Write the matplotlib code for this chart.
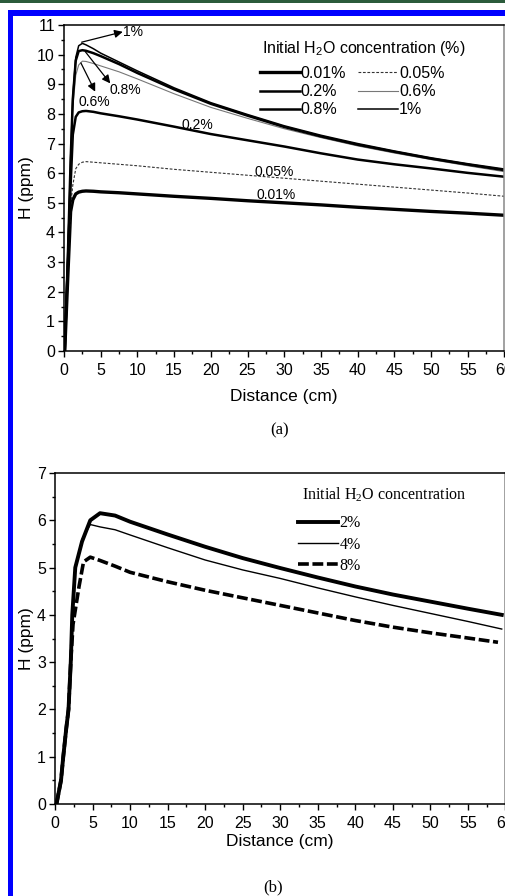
import matplotlib
matplotlib.use('Agg')
import matplotlib.pyplot as plt
from matplotlib.patches import Rectangle
from matplotlib.ticker import MultipleLocator

plt.rcParams['font.family'] = ['Liberation Sans', 'DejaVu Sans']
plt.rcParams['mathtext.default'] = 'regular'

# panel (a): initial H2O 0.01 - 1 %
x_a = [0.1, 0.5, 0.9, 1.2, 1.6, 2.0, 2.5, 3, 4, 5, 7.5, 10, 15, 20, 25, 30, 35, 40, 45, 50, 55, 60]
h_001 = [0, 2.4, 4.7, 5.1, 5.3, 5.36, 5.39, 5.4, 5.39, 5.37, 5.34, 5.3, 5.22, 5.15, 5.07, 5.0, 4.93, 4.85, 4.78, 4.71, 4.65, 4.58]
h_005 = [0, 2.6, 4.9, 5.6, 6.15, 6.3, 6.37, 6.39, 6.37, 6.35, 6.3, 6.25, 6.13, 6.03, 5.93, 5.83, 5.73, 5.63, 5.53, 5.43, 5.33, 5.22]
h_02 = [0, 2.8, 5.6, 7.3, 7.9, 8.05, 8.09, 8.1, 8.07, 8.02, 7.92, 7.81, 7.57, 7.32, 7.11, 6.9, 6.67, 6.46, 6.3, 6.16, 6.01, 5.88]
h_06 = [0, 3.0, 6.2, 8.2, 9.3, 9.65, 9.78, 9.77, 9.7, 9.62, 9.42, 9.18, 8.68, 8.22, 7.85, 7.5, 7.2, 6.92, 6.68, 6.46, 6.25, 6.05]
h_08 = [0, 3.0, 6.4, 8.5, 9.8, 10.12, 10.15, 10.13, 10.05, 9.95, 9.68, 9.38, 8.83, 8.34, 7.94, 7.56, 7.24, 6.96, 6.72, 6.49, 6.29, 6.1]
h_1 = [0, 3.0, 6.5, 8.6, 9.9, 10.3, 10.38, 10.33, 10.2, 10.05, 9.75, 9.45, 8.88, 8.38, 7.98, 7.6, 7.28, 7.0, 6.75, 6.52, 6.32, 6.14]

# panel (b): initial H2O 2 - 8 %
x_b = [0.2, 0.8, 1.1, 1.5, 1.8, 2.1, 2.3, 2.7, 3.6, 4.7, 6.0, 8, 10, 15, 20, 25, 30, 35, 40, 45, 50, 55, 59.5]
h_2 = [0, 0.5, 1.0, 1.6, 2.0, 3.0, 4.0, 5.0, 5.55, 6.0, 6.15, 6.1, 5.97, 5.7, 5.44, 5.2, 4.99, 4.79, 4.6, 4.43, 4.28, 4.13, 4.0]
h_4 = [0, 0.5, 1.0, 1.6, 2.0, 3.0, 4.0, 5.0, 5.6, 5.91, 5.86, 5.8, 5.69, 5.42, 5.16, 4.95, 4.77, 4.57, 4.38, 4.2, 4.03, 3.86, 3.7]
x_b8 = [0.2, 0.8, 1.1, 1.5, 1.8, 2.1, 2.4, 3.2, 3.8, 4.7, 6, 8, 10, 15, 20, 25, 30, 35, 40, 45, 50, 55, 59]
h_8 = [0, 0.5, 1.0, 1.6, 2.0, 3.0, 3.8, 4.6, 5.12, 5.22, 5.15, 5.03, 4.9, 4.7, 4.52, 4.36, 4.2, 4.04, 3.88, 3.74, 3.62, 3.51, 3.42]

fig = plt.figure(figsize=(5.06, 8.96), dpi=100)

# page decoration (green strip + blue frame)
fig.add_artist(Rectangle((0, 1 - 3 / 896), 1, 3 / 896, transform=fig.transFigure,
                         color='#2b5b3b', lw=0))
fig.add_artist(Rectangle((8 / 506, 1 - 16 / 896), 1, 6 / 896, transform=fig.transFigure,
                         color='#0000ff', lw=0))
fig.add_artist(Rectangle((8 / 506, 0), 5 / 506, 1 - 10 / 896, transform=fig.transFigure,
                         color='#0000ff', lw=0))

ax1 = fig.add_axes([64 / 506, 1 - 351 / 896, 440.5 / 506, 326 / 896])
ax2 = fig.add_axes([55 / 506, 1 - 804 / 896, 450.5 / 506, 331 / 896])


def style_axis(ax, ymax):
    ax.set_xlim(0, 60)
    ax.set_ylim(0, ymax)
    ax.xaxis.set_major_locator(MultipleLocator(5))
    ax.xaxis.set_minor_locator(MultipleLocator(2.5))
    ax.yaxis.set_major_locator(MultipleLocator(1))
    ax.yaxis.set_minor_locator(MultipleLocator(0.5))
    ax.tick_params(which='both', direction='out', top=False, right=False,
                   width=1.0, labelsize=11.5)
    ax.tick_params(which='major', length=4.5, pad=2)
    ax.tick_params(axis='x', which='major', pad=4)
    ax.tick_params(which='minor', length=2.5)
    for s in ax.spines.values():
        s.set_linewidth(1.1)
    ax.spines['right'].set_color('#888888')


# ---- (a)
l001, = ax1.plot(x_a, h_001, color='black', lw=2.4, label='0.01%')
l005, = ax1.plot(x_a, h_005, color='#333333', lw=0.8, ls=(0, (2.5, 1.5)), label='0.05%')
l02, = ax1.plot(x_a, h_02, color='black', lw=1.8, label='0.2%')
l06, = ax1.plot(x_a, h_06, color='#777777', lw=0.8, label='0.6%')
l08, = ax1.plot(x_a, h_08, color='black', lw=1.8, label='0.8%')
l1, = ax1.plot(x_a, h_1, color='black', lw=1.1, label='1%')
style_axis(ax1, 11)
ax1.set_xlabel('Distance (cm)', fontsize=12.5, labelpad=8)
ax1.set_ylabel('H (ppm)', fontsize=12.5, labelpad=2)

ax1.text(0.4495, 0.927, r'Initial H$_2$O concentration (%)', fontsize=11.5,
         transform=ax1.transAxes, ha='left', va='center')
ax1.legend(handles=[l001, l02, l08, l005, l06, l1], ncol=2, frameon=False,
           fontsize=11.5, loc='upper left', bbox_to_anchor=(0.445, 0.874),
           handlelength=2.5, handletextpad=0.05, columnspacing=0.75,
           labelspacing=0.2, borderaxespad=0, borderpad=0)

arrow = dict(arrowstyle='-|>', color='black', lw=0.9, mutation_scale=12, shrinkA=0, shrinkB=0)
ax1.annotate('', xy=(8.0, 10.77), xytext=(2.4, 10.42), arrowprops=arrow)
ax1.text(8.1, 10.75, '1%', fontsize=10, va='center', ha='left')
ax1.annotate('', xy=(6.3, 9.03), xytext=(2.9, 10.1), arrowprops=arrow)
ax1.text(8.4, 8.8, '0.8%', fontsize=10, va='center', ha='center')
ax1.annotate('', xy=(4.25, 8.75), xytext=(2.3, 9.72), arrowprops=arrow)
ax1.text(4.15, 8.41, '0.6%', fontsize=10, va='center', ha='center')
ax1.text(18.2, 7.62, '0.2%', fontsize=10, va='center', ha='center')
ax1.text(28.6, 6.04, '0.05%', fontsize=10, va='center', ha='center')
ax1.text(28.9, 5.26, '0.01%', fontsize=10, va='center', ha='center')

fig.text(280 / 506, 1 - 430 / 896, '(a)', family='Liberation Serif', fontsize=12,
         ha='center', va='center')

# ---- (b)
m2, = ax2.plot(x_b, h_2, color='black', lw=2.8, label='2%')
m4, = ax2.plot(x_b, h_4, color='black', lw=1.0, label='4%')
m8, = ax2.plot(x_b8, h_8, color='black', lw=2.6, ls=(0, (3, 1)), label='8%')
style_axis(ax2, 7)
ax2.set_xlabel('Distance (cm)', fontsize=12.5, labelpad=2)
ax2.set_ylabel('H (ppm)', fontsize=12.5, labelpad=2)

ax2.text(0.548, 0.9335, r'Initial H$_2$O concentration', fontsize=11.5,
         family='Liberation Serif', transform=ax2.transAxes, ha='left', va='center')
ax2.legend(handles=[m2, m4, m8], frameon=False,
           prop={'family': 'Liberation Serif', 'size': 11.5},
           loc='upper left', bbox_to_anchor=(0.539, 0.872),
           handlelength=2.5, handletextpad=0.1, labelspacing=0.33,
           borderaxespad=0, borderpad=0)

fig.text(273 / 506, 1 - 887 / 896, '(b)', family='Liberation Serif', fontsize=12,
         ha='center', va='center')

fig.savefig('out.png', dpi=100)
